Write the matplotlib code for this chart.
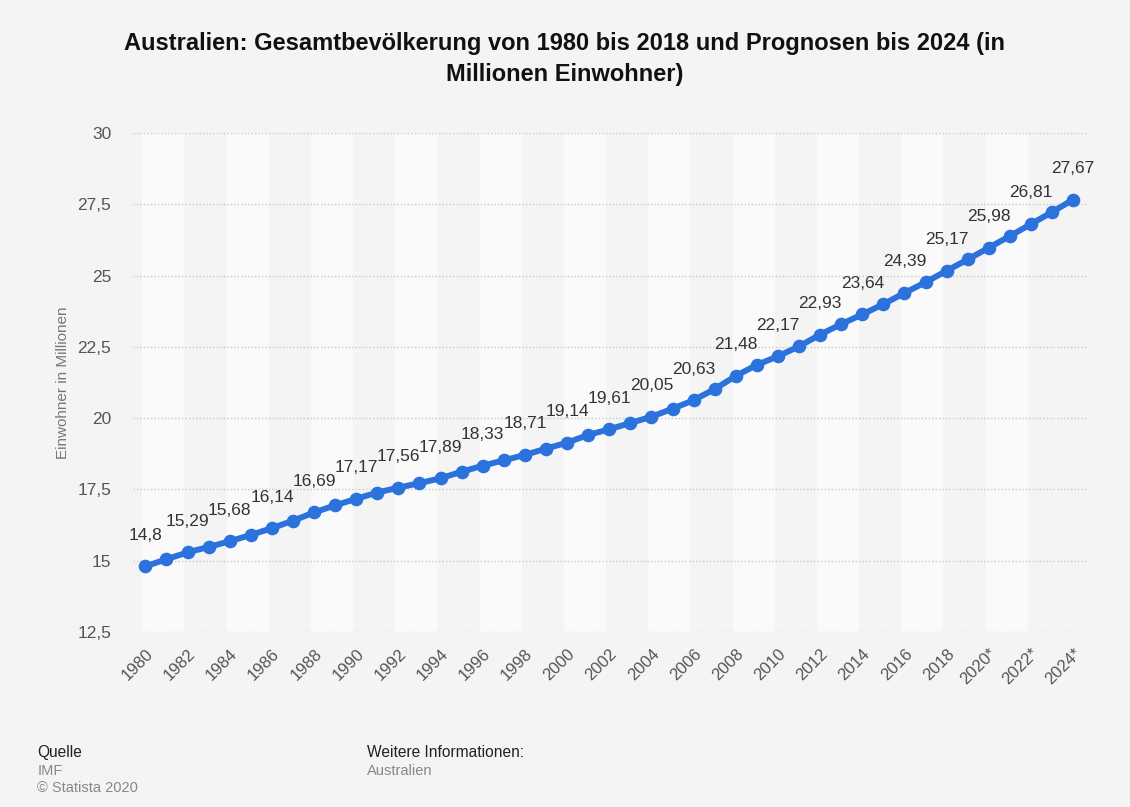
import matplotlib.pyplot as plt

plt.rcParams['font.family'] = ['Liberation Sans', 'DejaVu Sans']

# data (Mio. Einwohner), IMF
years = list(range(1980, 2025))
population = [14.80, 15.05, 15.29, 15.48, 15.68, 15.90, 16.14, 16.40, 16.69, 16.94,
              17.17, 17.39, 17.56, 17.72, 17.89, 18.12, 18.33, 18.52, 18.71, 18.93,
              19.14, 19.41, 19.61, 19.83, 20.05, 20.33, 20.63, 21.02, 21.48, 21.87,
              22.17, 22.52, 22.93, 23.30, 23.64, 24.00, 24.39, 24.77, 25.17, 25.57,
              25.98, 26.39, 26.81, 27.23, 27.67]
tick_years = list(range(1980, 2025, 2))
tick_labels = [str(y) + ('*' if y >= 2020 else '') for y in tick_years]
y_ticks = [12.5, 15, 17.5, 20, 22.5, 25, 27.5, 30]

bg = '#f4f4f4'
fig = plt.figure(figsize=(11.3, 8.07), dpi=100, facecolor=bg)
ax = fig.add_axes([0.118, 0.217, 0.844, 0.618])
ax.set_facecolor(bg)

# alternating column stripes
for start in range(1980, 2024, 4):
    ax.axvspan(start - 0.15, start + 1.85, color='#fafafa', zorder=0, lw=0)

ax.plot(years, population, color='#2b72dc', lw=4.3, marker='o', ms=8.8,
        solid_capstyle='round', zorder=3)

for yr, val in zip(years, population):
    if yr % 2 == 0:
        ax.annotate(f'{val:.2f}'.rstrip('0').replace('.', ','), (yr, val),
                    xytext=(0, 17), textcoords='offset points',
                    ha='center', va='bottom', fontsize=12.5, color='#333333')

ax.set_xlim(1979.43, 2024.66)
ax.set_ylim(12.5, 30)
ax.set_yticks(y_ticks)
ax.set_yticklabels([str(v).replace('.', ',') for v in y_ticks])
ax.set_xticks(tick_years)
ax.set_xticklabels(tick_labels, rotation=45, ha='right', rotation_mode='anchor')
ax.tick_params(axis='both', length=0, labelsize=12, labelcolor='#555555')
ax.tick_params(axis='y', labelsize=12.5, pad=16)
ax.tick_params(axis='x', pad=10)
ax.grid(axis='y', color='#c8c8c8', ls=(0, (1, 1.5)), lw=1)
ax.set_axisbelow(True)
for s in ax.spines.values():
    s.set_visible(False)

ax.set_ylabel('Einwohner in Millionen', fontsize=11, color='#777777', labelpad=5)

fig.text(0.5, 0.927, 'Australien: Gesamtbevölkerung von 1980 bis 2018 und Prognosen bis 2024 (in\nMillionen Einwohner)',
         ha='center', va='center', fontsize=17, fontweight='bold', color='#111111',
         linespacing=1.45)

fig.text(0.033, 0.067, 'Quelle', fontsize=11.2, color='#222222', va='center')
fig.text(0.033, 0.045, 'IMF', fontsize=10.5, color='#888888', va='center')
fig.text(0.033, 0.023, '© Statista 2020', fontsize=10.5, color='#888888', va='center')
fig.text(0.325, 0.067, 'Weitere Informationen:', fontsize=11.2, color='#222222', va='center')
fig.text(0.325, 0.045, 'Australien', fontsize=10.5, color='#888888', va='center')

fig.savefig('out.png', dpi=100, facecolor=bg)
